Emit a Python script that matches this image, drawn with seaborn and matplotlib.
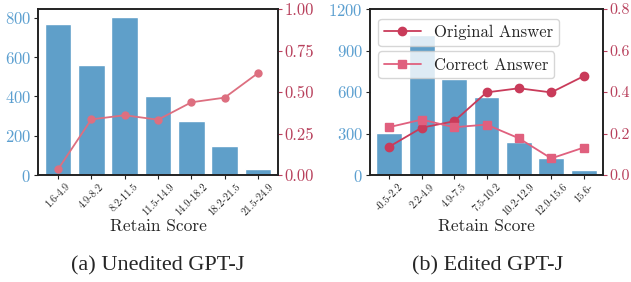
import matplotlib
matplotlib.use("Agg")
import matplotlib.pyplot as plt
import seaborn as sns
import pandas as pd

# unedited GPT-J
bins_a = ["1.6-4.9", "4.9-8.2", "8.2-11.5", "11.5-14.9", "14.9-18.2", "18.2-21.5", "21.5-24.9"]
count_a = [770, 560, 805, 403, 277, 150, 32]
acc_a = [0.034, 0.335, 0.36, 0.333, 0.438, 0.466, 0.614]

# edited GPT-J
bins_b = ["-0.5-2.2", "2.2-4.9", "4.9-7.5", "7.5-10.2", "10.2-12.9", "12.9-15.6", "15.6-"]
count_b = [305, 1015, 697, 563, 238, 122, 36]
orig_b = [0.137, 0.228, 0.259, 0.398, 0.418, 0.398, 0.476]
corr_b = [0.231, 0.267, 0.230, 0.243, 0.177, 0.080, 0.132]

BAR = "#5f9fc9"
BLUE_TXT = "#5b9fd0"
RED_TXT = "#b8405c"
LINE_A = "#dd6f80"
ORIG = "#c93b5a"
CORR = "#e0607e"

sns.set_style("ticks")
plt.rcParams["font.family"] = ["cmr10", "DejaVu Serif"]
plt.rcParams["axes.formatter.use_mathtext"] = True
plt.rcParams["axes.unicode_minus"] = False

fig = plt.figure(figsize=(6.31, 2.82), dpi=100)
ax1 = fig.add_axes([38 / 631, 1 - 175 / 282, 240 / 631, 166 / 282])
ax3 = fig.add_axes([370 / 631, 1 - 175 / 282, 233 / 631, 166 / 282])


def style_axes(ax, tw, rsize):
    for s in ax.spines.values():
        s.set_color("#222222")
        s.set_linewidth(1.2)
    ax.tick_params(axis="y", colors=BLUE_TXT, labelsize=12, length=3, pad=2)
    ax.tick_params(axis="y", color="#222222")
    ax.tick_params(axis="x", labelsize=7.5, length=3, color="#222222", pad=2)
    for lab in ax.get_xticklabels():
        lab.set_rotation(45)
        lab.set_ha("center")
    tw.tick_params(axis="y", colors=RED_TXT, labelsize=rsize, length=3, pad=1.5)
    for s in tw.spines.values():
        s.set_color("#222222")
        s.set_linewidth(1.2)
    ax.set_xlabel("Retain Score", fontsize=12.5, labelpad=1)
    ax.set_ylabel("")
    tw.set_ylabel("")


# panel (a)
df_a = pd.DataFrame({"bin": bins_a, "count": count_a, "acc": acc_a})
sns.barplot(data=df_a, x="bin", y="count", color=BAR, saturation=1, width=0.8, ax=ax1)
ax1.set_ylim(0, 845)
ax1.set_yticks([0, 200, 400, 600, 800])
ax2 = ax1.twinx()
sns.lineplot(x=list(range(len(bins_a))), y=acc_a, color=LINE_A, marker="o",
             markersize=6, markeredgewidth=0, linewidth=1.3, ax=ax2)
ax2.set_ylim(0, 1.0)
ax2.set_yticks([0, 0.25, 0.5, 0.75, 1.0])
ax2.set_yticklabels(["0.00", "0.25", "0.50", "0.75", "1.00"])
ax1.set_xlim(-0.6, 6.6)
style_axes(ax1, ax2, 12)

# panel (b)
df_b = pd.DataFrame({"bin": bins_b, "count": count_b})
sns.barplot(data=df_b, x="bin", y="count", color=BAR, saturation=1, width=0.8, ax=ax3)
ax3.set_ylim(0, 1200)
ax3.set_yticks([0, 300, 600, 900, 1200])
ax4 = ax3.twinx()
xs = list(range(len(bins_b)))
l1, = ax4.plot(xs, orig_b, color=ORIG, marker="o", markersize=6, linewidth=1.3,
               label="Original Answer")
l2, = ax4.plot(xs, corr_b, color=CORR, marker="s", markersize=6, linewidth=1.3,
               label="Correct Answer")
ax4.set_ylim(0, 0.8)
ax4.set_yticks([0, 0.2, 0.4, 0.6, 0.8])
ax4.set_yticklabels(["0.0", "0.2", "0.4", "0.6", "0.8"])
ax3.set_xlim(-0.6, 6.6)
style_axes(ax3, ax4, 11.5)

leg1 = ax4.legend(handles=[l1], loc="upper left", bbox_to_anchor=(0.0, 0.99),
                  fontsize=12, frameon=True, handlelength=2.2, borderpad=0.35)
ax4.add_artist(leg1)
ax4.legend(handles=[l2], loc="upper left", bbox_to_anchor=(0.0, 0.795),
           fontsize=12, frameon=True, handlelength=2.2, borderpad=0.35)

fig.text(158 / 631, 1 - 266 / 282, "(a) Unedited GPT-J", ha="center", va="center",
         fontsize=16, family=["Liberation Serif"])
fig.text(488 / 631, 1 - 266 / 282, "(b) Edited GPT-J", ha="center", va="center",
         fontsize=16, family=["Liberation Serif"])

fig.savefig("out.png", dpi=100)
